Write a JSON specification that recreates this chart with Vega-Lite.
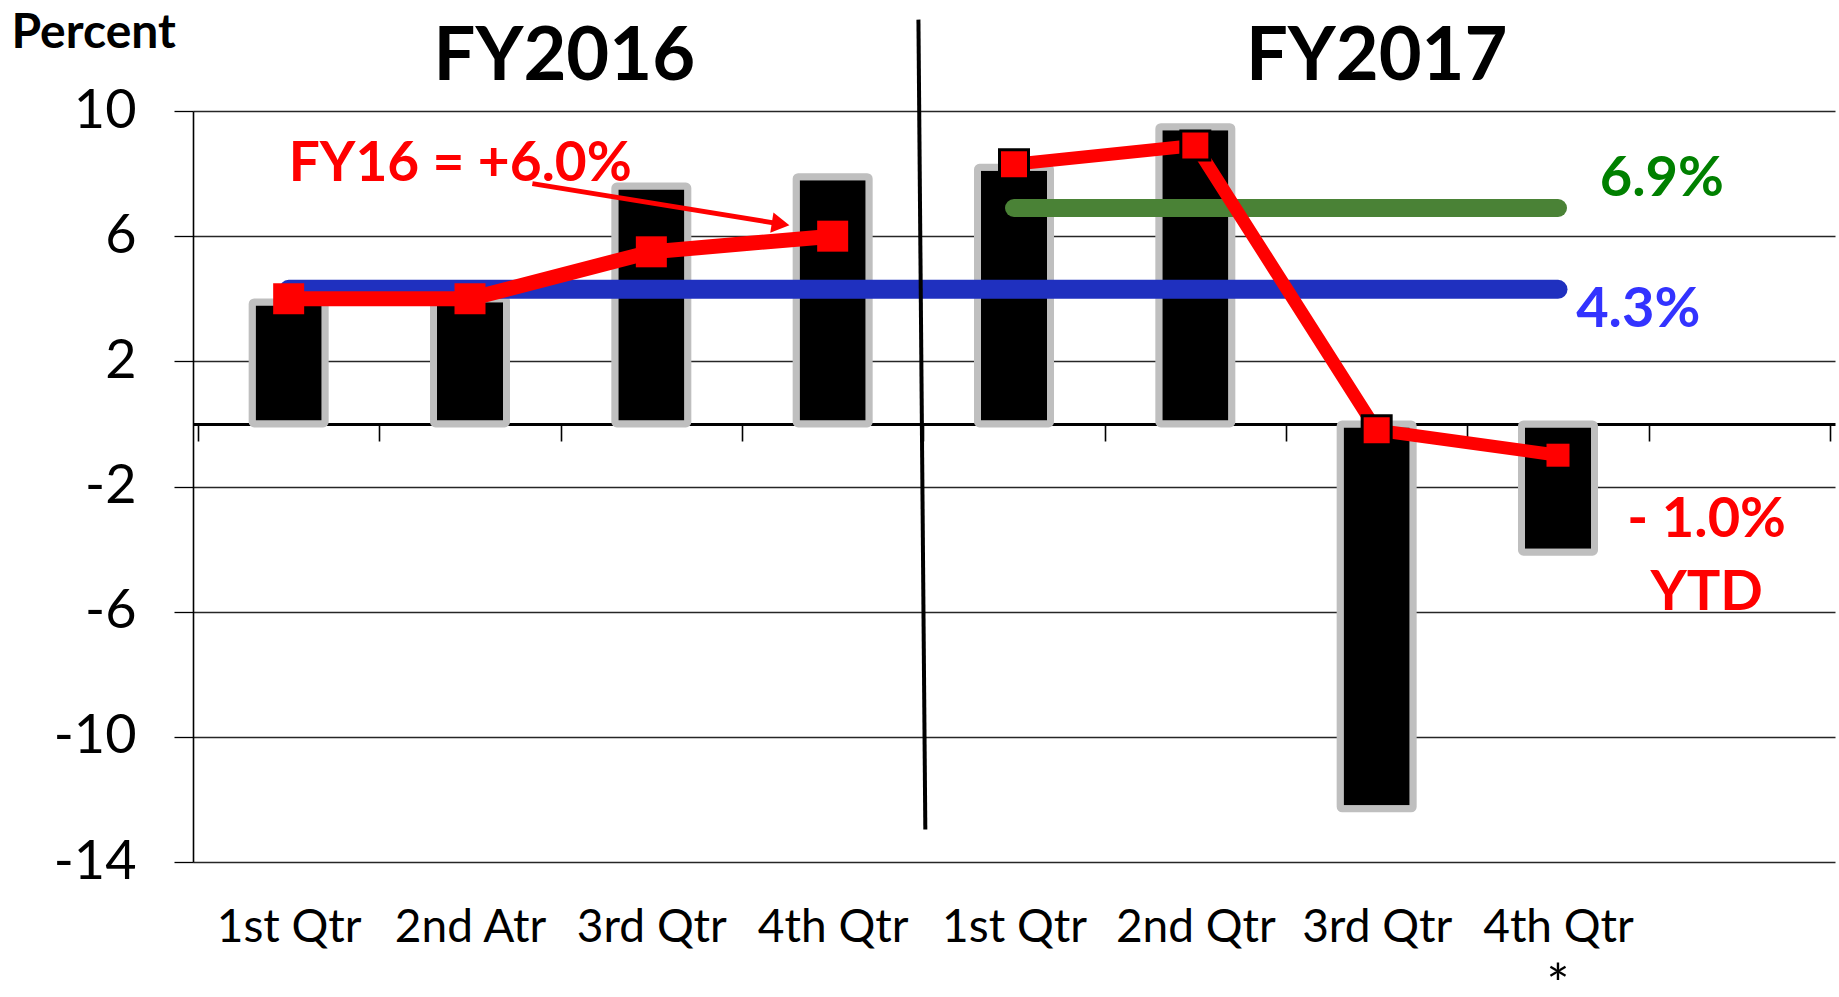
{
  "$schema": "https://vega.github.io/schema/vega-lite/v6.json",
  "width": 1642,
  "height": 751,
  "autosize": {"type": "none"},
  "padding": {"left": 193, "top": 111, "right": 4, "bottom": 135},
  "background": "white",
  "config": {"view": {"stroke": null}, "font": "Lato"},
  "datasets": {
    "bars": [
      {"idx": 1, "v": 3.9}, {"idx": 2, "v": 4.0}, {"idx": 3, "v": 7.6}, {"idx": 4, "v": 7.9},
      {"idx": 5, "v": 8.2}, {"idx": 6, "v": 9.5}, {"idx": 7, "v": -12.3}, {"idx": 8, "v": -4.1}
    ],
    "ytd": [
      {"idx": 1, "v": 4.0, "fy": "FY2016"}, {"idx": 2, "v": 4.0, "fy": "FY2016"},
      {"idx": 3, "v": 5.5, "fy": "FY2016"}, {"idx": 4, "v": 6.0, "fy": "FY2016"},
      {"idx": 5, "v": 8.3, "fy": "FY2017"}, {"idx": 6, "v": 8.9, "fy": "FY2017"},
      {"idx": 7, "v": -0.2, "fy": "FY2017"}, {"idx": 8, "v": -1.0, "fy": "FY2017"}
    ],
    "refs": [
      {"name": "two-year", "x": 1, "x2": 8, "v": 4.3},
      {"name": "FY2017", "x": 5, "x2": 8, "v": 6.9}
    ],
    "arrow": [{"x": 2.344, "v": 7.68, "x2": 3.70, "v2": 6.40}],
    "arrowhead": [{"x": 3.713, "v": 6.39}],
    "divider": [{"x": 4.473, "v": 12.92, "x2": 4.511, "v2": -12.96}],
    "annot": [
      {"kind": "fy", "text": "FY2016", "x": 2.52, "v": 11.0},
      {"kind": "fy", "text": "FY2017", "x": 7.0, "v": 11.0},
      {"kind": "fy16", "text": "FY16 = +6.0%", "x": 1.0, "v": 7.75},
      {"kind": "green", "text": "6.9%", "x": 8.23, "v": 7.27},
      {"kind": "blue", "text": "4.3%", "x": 8.10, "v": 3.11},
      {"kind": "ytd", "text": "- 1.0%", "x": 8.82, "v": -3.6},
      {"kind": "ytd", "text": "YTD", "x": 8.82, "v": -5.96},
      {"kind": "star", "text": "*", "x": 8.0, "v": -18.5}
    ]
  },
  "resolve": {"axis": {"x": "independent"}},
  "layer": [
    {
      "data": {"name": "bars"},
      "mark": {"type": "bar", "fill": "black", "stroke": "#BFBFBF", "strokeWidth": 7, "width": 73, "cornerRadius": 2},
      "encoding": {
        "x": {
          "field": "idx", "type": "quantitative",
          "scale": {"domain": [0.5, 9.5], "nice": false, "zero": false},
          "axis": {
            "orient": "bottom",
            "values": [1, 2, 3, 4, 5, 6, 7, 8],
            "labelExpr": "[' ', '1st Qtr', '2nd Atr', '3rd Qtr', '4th Qtr', '1st Qtr', '2nd Qtr', '3rd Qtr', '4th Qtr', ' '][datum.value]",
            "domain": false, "ticks": false, "tickSize": 0, "grid": false,
            "labelFont": "Lato", "labelFontSize": 46, "labelColor": "black",
            "labelPadding": 43, "labelOverlap": false, "labelFlush": false,
            "title": null
          }
        },
        "y": {
          "field": "v", "type": "quantitative",
          "scale": {"domain": [-14, 10], "nice": false},
          "axis": {
            "values": [10, 6, 2, -2, -6, -10, -14],
            "labelExpr": "toString(datum.value)",
            "grid": true, "gridColor": "#262626", "gridWidth": 1.3,
            "domain": true, "domainColor": "black", "domainWidth": 1.6,
            "ticks": true, "tickColor": "black", "tickSize": 19, "tickWidth": 1.3,
            "labelFont": "Lato", "labelFontSize": 54, "labelColor": "black", "labelPadding": 38,
            "title": "Percent", "titleAngle": 0, "titleAlign": "left", "titleBaseline": "alphabetic",
            "titleX": -182, "titleY": -64, "titleFont": "Lato", "titleFontSize": 48,
            "titleFontWeight": "bold", "titleColor": "black"
          }
        }
      }
    },
    {
      "data": {"name": "refs"},
      "transform": [{"filter": "datum.name == 'two-year'"}],
      "mark": {"type": "rule", "stroke": "#1F30BF", "strokeWidth": 19, "strokeCap": "round"},
      "encoding": {
        "x": {"field": "x", "type": "quantitative", "axis": null},
        "x2": {"field": "x2"},
        "y": {"field": "v", "type": "quantitative"}
      }
    },
    {
      "data": {"name": "refs"},
      "transform": [{"filter": "datum.name == 'FY2017'"}],
      "mark": {"type": "rule", "stroke": "#4A8236", "strokeWidth": 18, "strokeCap": "round"},
      "encoding": {
        "x": {"field": "x", "type": "quantitative", "axis": null},
        "x2": {"field": "x2"},
        "y": {"field": "v", "type": "quantitative"}
      }
    },
    {
      "data": {"name": "ytd"},
      "transform": [{"filter": "datum.fy == 'FY2016'"}],
      "mark": {"type": "line", "stroke": "#FF0000", "strokeWidth": 15},
      "encoding": {
        "x": {"field": "idx", "type": "quantitative", "axis": null},
        "y": {"field": "v", "type": "quantitative"}
      }
    },
    {
      "data": {"name": "ytd"},
      "transform": [{"filter": "datum.fy == 'FY2016'"}],
      "mark": {"type": "point", "shape": "square", "filled": true, "fill": "#FF0000", "opacity": 1, "size": 961, "strokeWidth": 0},
      "encoding": {
        "x": {"field": "idx", "type": "quantitative", "axis": null},
        "y": {"field": "v", "type": "quantitative"}
      }
    },
    {
      "data": {"name": "ytd"},
      "transform": [{"filter": "datum.fy == 'FY2017'"}],
      "mark": {"type": "line", "stroke": "#FF0000", "strokeWidth": 13},
      "encoding": {
        "x": {"field": "idx", "type": "quantitative", "axis": null},
        "y": {"field": "v", "type": "quantitative"}
      }
    },
    {
      "data": {"name": "ytd"},
      "transform": [{"filter": "datum.fy == 'FY2017' && datum.idx <= 7"}],
      "mark": {"type": "point", "shape": "square", "filled": true, "fill": "#FF0000", "stroke": "black", "strokeWidth": 3, "opacity": 1, "size": 841},
      "encoding": {
        "x": {"field": "idx", "type": "quantitative", "axis": null},
        "y": {"field": "v", "type": "quantitative"}
      }
    },
    {
      "data": {"name": "ytd"},
      "transform": [{"filter": "datum.fy == 'FY2017' && datum.idx == 8"}],
      "mark": {"type": "point", "shape": "square", "filled": true, "fill": "#FF0000", "opacity": 1, "size": 529, "strokeWidth": 0},
      "encoding": {
        "x": {"field": "idx", "type": "quantitative", "axis": null},
        "y": {"field": "v", "type": "quantitative"}
      }
    },
    {
      "data": {"name": "arrow"},
      "mark": {"type": "rule", "stroke": "#FF0000", "strokeWidth": 5},
      "encoding": {
        "x": {"field": "x", "type": "quantitative", "axis": null},
        "x2": {"field": "x2"},
        "y": {"field": "v", "type": "quantitative"},
        "y2": {"field": "v2"}
      }
    },
    {
      "data": {"name": "arrowhead"},
      "mark": {"type": "point", "shape": "triangle-right", "filled": true, "fill": "#FF0000", "opacity": 1, "size": 420, "angle": 9, "strokeWidth": 0},
      "encoding": {
        "x": {"field": "x", "type": "quantitative", "axis": null},
        "y": {"field": "v", "type": "quantitative"}
      }
    },
    {
      "data": {"name": "divider"},
      "mark": {"type": "rule", "stroke": "black", "strokeWidth": 4},
      "encoding": {
        "x": {
          "field": "x", "type": "quantitative",
          "axis": {
            "orient": "bottom",
            "values": [0.5, 1.5, 2.5, 3.5, 4.5, 5.5, 6.5, 7.5, 8.5, 9.5],
            "labels": false, "domain": true, "domainColor": "black", "domainWidth": 3,
            "ticks": true, "tickColor": "black", "tickWidth": 1.6, "tickSize": 17,
            "grid": false, "offset": -438, "title": null
          }
        },
        "x2": {"field": "x2"},
        "y": {"field": "v", "type": "quantitative"},
        "y2": {"field": "v2"}
      }
    },
    {
      "data": {"name": "annot"},
      "transform": [{"filter": "datum.kind == 'fy'"}],
      "mark": {"type": "text", "font": "Lato", "fontWeight": "bold", "fontSize": 74, "color": "black", "align": "center", "baseline": "alphabetic"},
      "encoding": {
        "x": {"field": "x", "type": "quantitative", "axis": null},
        "y": {"field": "v", "type": "quantitative"},
        "text": {"field": "text"}
      }
    },
    {
      "data": {"name": "annot"},
      "transform": [{"filter": "datum.kind == 'fy16'"}],
      "mark": {"type": "text", "font": "Lato", "fontWeight": "bold", "fontSize": 55, "color": "#FF0000", "align": "left", "baseline": "alphabetic"},
      "encoding": {
        "x": {"field": "x", "type": "quantitative", "axis": null},
        "y": {"field": "v", "type": "quantitative"},
        "text": {"field": "text"}
      }
    },
    {
      "data": {"name": "annot"},
      "transform": [{"filter": "datum.kind == 'green'"}],
      "mark": {"type": "text", "font": "Lato", "fontWeight": "bold", "fontSize": 56, "color": "#008000", "align": "left", "baseline": "alphabetic"},
      "encoding": {
        "x": {"field": "x", "type": "quantitative", "axis": null},
        "y": {"field": "v", "type": "quantitative"},
        "text": {"field": "text"}
      }
    },
    {
      "data": {"name": "annot"},
      "transform": [{"filter": "datum.kind == 'blue'"}],
      "mark": {"type": "text", "font": "Lato", "fontWeight": "bold", "fontSize": 56, "color": "#3333FF", "align": "left", "baseline": "alphabetic"},
      "encoding": {
        "x": {"field": "x", "type": "quantitative", "axis": null},
        "y": {"field": "v", "type": "quantitative"},
        "text": {"field": "text"}
      }
    },
    {
      "data": {"name": "annot"},
      "transform": [{"filter": "datum.kind == 'ytd'"}],
      "mark": {"type": "text", "font": "Lato", "fontWeight": "bold", "fontSize": 56, "color": "#FF0000", "align": "center", "baseline": "alphabetic"},
      "encoding": {
        "x": {"field": "x", "type": "quantitative", "axis": null},
        "y": {"field": "v", "type": "quantitative"},
        "text": {"field": "text"}
      }
    },
    {
      "data": {"name": "annot"},
      "transform": [{"filter": "datum.kind == 'star'"}],
      "mark": {"type": "text", "font": "Lato", "fontSize": 54, "color": "black", "align": "center", "baseline": "alphabetic"},
      "encoding": {
        "x": {"field": "x", "type": "quantitative", "axis": null},
        "y": {"field": "v", "type": "quantitative"},
        "text": {"field": "text"}
      }
    }
  ]
}
